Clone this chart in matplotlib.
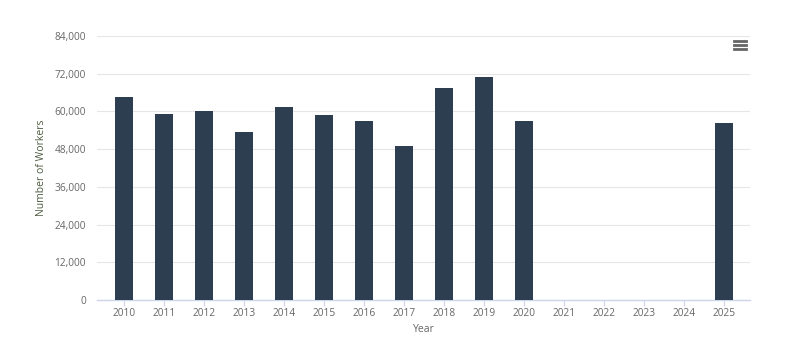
import numpy as np
import matplotlib
matplotlib.use("Agg")
import matplotlib.pyplot as plt
from matplotlib.ticker import FuncFormatter
from matplotlib.lines import Line2D

# Data
years = ["2010", "2011", "2012", "2013", "2014", "2015", "2016", "2017",
         "2018", "2019", "2020", "2021", "2022", "2023", "2024", "2025"]
workers = [64600, 59200, 60100, 53500, 61400, 58900, 57000, 49000,
           67400, 71000, 57000, 0, 0, 0, 0, 56400]
y_ticks = [0, 12000, 24000, 36000, 48000, 60000, 72000, 84000]

plt.rcParams["font.family"] = ["Open Sans", "DejaVu Sans"]
text_color = "#666666"

fig = plt.figure(figsize=(8, 3.56), dpi=100)
ax = fig.add_axes([97 / 800, 56 / 356, 653 / 800, 264 / 356])

x = np.arange(len(years))
ax.bar(x, workers, width=0.46, color="#2c3e50", zorder=3)

ax.set_ylim(0, 84000)
ax.set_xlim(-0.67, 15.65)
ax.set_yticks(y_ticks)
ax.yaxis.set_major_formatter(FuncFormatter(lambda v, p: f"{int(v):,}"))
ax.set_xticks(x)
ax.set_xticklabels(years)

ax.grid(axis="y", color="#e6e6e6", linewidth=0.8, zorder=0)
for side in ["top", "right", "left"]:
    ax.spines[side].set_visible(False)
ax.spines["bottom"].set_color("#ccd6eb")
ax.spines["bottom"].set_linewidth(1)

ax.tick_params(axis="y", length=0, labelsize=7.3, labelcolor=text_color, pad=8)
ax.tick_params(axis="x", length=4, color="#ccd6eb", labelsize=7.3,
               labelcolor=text_color, pad=2)

ax.set_xlabel("Year", fontsize=7.5, color=text_color, labelpad=3)
ax.set_ylabel("Number of Workers", fontsize=7.5, color="#4d5a3f", labelpad=5)

# context menu icon (hamburger) in the top right corner
for yy in [41, 45, 49]:
    fig.add_artist(Line2D([734 / 800, 746 / 800], [1 - yy / 356, 1 - yy / 356],
                          color="#666666", linewidth=2))

fig.savefig("out.png", dpi=100, facecolor="white")
